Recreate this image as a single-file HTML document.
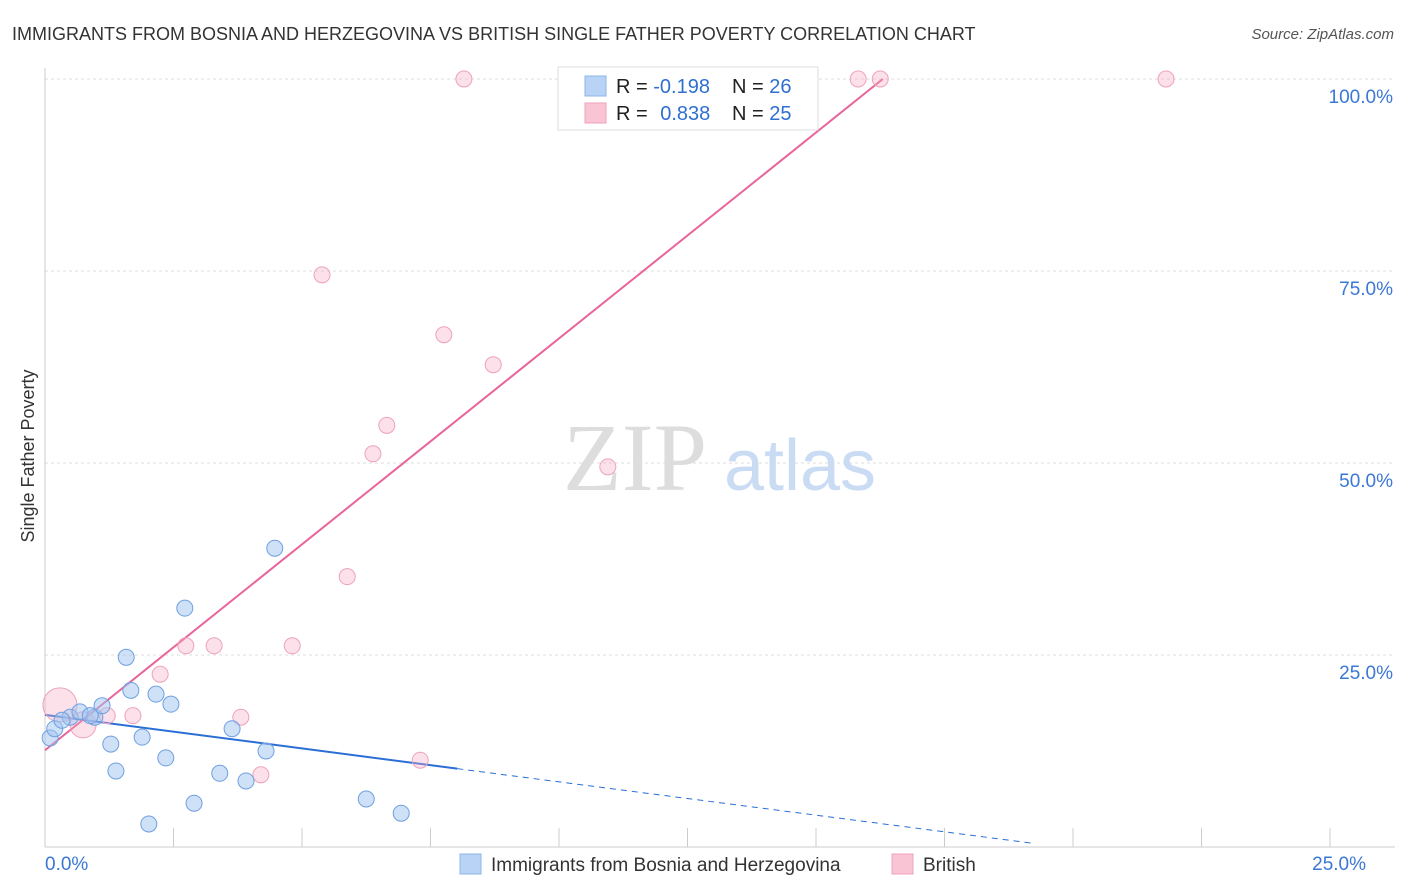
<!DOCTYPE html>
<html><head><meta charset="utf-8"><style>
body{margin:0;background:#fff;font-family:"Liberation Sans",sans-serif;}
svg{display:block}
</style></head><body>
<svg id="c" width="1406" height="892" xmlns="http://www.w3.org/2000/svg">
<text x="12" y="40" font-size="18" fill="#333">IMMIGRANTS FROM BOSNIA AND HERZEGOVINA VS BRITISH SINGLE FATHER POVERTY CORRELATION CHART</text>
<text x="1394" y="39" font-size="15" fill="#555" font-style="italic" text-anchor="end">Source: ZipAtlas.com</text>
<text x="34" y="456" font-size="18" fill="#333" text-anchor="middle" transform="rotate(-90 34 456)">Single Father Poverty</text>
<g id="grid"></g>
<g>
<text x="635" y="490" font-size="96" font-family="Liberation Serif,serif" fill="#ddd" text-anchor="middle">ZIP</text>
<text x="800" y="490" font-size="72" fill="#c9dcf3" text-anchor="middle">atlas</text></g>
<g id="lines"></g><g id="pts"></g>
<g>
<rect x="558" y="67" width="260" height="63" fill="#fff" stroke="#ddd"/>
<rect x="585" y="76" width="21" height="20" fill="#b8d3f5" stroke="#8db5e6"/>
<rect x="585" y="103" width="21" height="20" fill="#f9c4d4" stroke="#eea2ba"/>
<text x="616" y="93" font-size="20" fill="#222">R = <tspan fill="#2f6fd0">-0.198</tspan></text>
<text x="732" y="93" font-size="20" fill="#222">N = <tspan fill="#2f6fd0">26</tspan></text>
<text x="616" y="120" font-size="20" fill="#222">R = <tspan fill="#2f6fd0" dx="7">0.838</tspan></text>
<text x="732" y="120" font-size="20" fill="#222">N = <tspan fill="#2f6fd0">25</tspan></text>
</g>
<g>
<rect x="460" y="854" width="21" height="20" fill="#b8d3f5" stroke="#8db5e6"/>
<text x="491" y="871" font-size="19" fill="#333">Immigrants from Bosnia and Herzegovina</text>
<rect x="892" y="854" width="21" height="20" fill="#f9c4d4" stroke="#eea2ba"/>
<text x="923" y="871" font-size="19" fill="#333">British</text>
</g>
</svg>
<script>
const blueX=[0.10,0.19,0.49,0.68,0.97,1.11,1.28,1.38,1.58,1.67,1.89,2.02,2.16,2.35,2.45,2.72,2.90,3.40,3.64,3.91,4.30,4.47,6.25,6.93,0.33,0.88];
const blueY=[14.2,15.4,16.9,17.6,16.9,18.4,13.4,9.9,24.7,20.4,14.3,3.0,19.9,11.6,18.6,31.1,5.7,9.6,15.4,8.6,12.5,38.9,6.25,4.4,16.5,17.1];
const pinkX=[0.29,0.74,1.21,1.71,2.24,2.74,3.29,3.81,4.20,4.81,5.39,5.88,6.38,6.65,7.76,8.15,8.72,10.23,10.95,13.33,14.30,15.82,16.25,21.81,7.30];
const pinkY=[18.5,15.9,17.1,17.1,22.5,26.2,26.2,16.9,9.4,26.2,74.5,35.2,51.2,54.9,66.7,100,62.8,100,49.5,100,100,100,100,100,11.3];
const pinkR=[17,13,8,8,8,8,8,8,8,8,8,8,8,8,8,8,8,8,8,8,8,8,8,8,8];
const blueTrend=[[0,17.2],[8.02,10.2],[19.2,0.5]];
const pinkTrend=[[0,12.6],[16.3,100]];
const yTicks=[25,50,75,100];
const xTickVals=[0,2.5,5,7.5,10,12.5,15,17.5,20,22.5,25];
const sx=v=>45+v/25*1285, sy=v=>847-v/25*192;
const NS="http://www.w3.org/2000/svg";
function mk(p,t,a){const e=document.createElementNS(NS,t);for(const k in a)e.setAttribute(k,a[k]);p.appendChild(e);return e;}
const g=document.getElementById('grid');
yTicks.forEach(v=>{const l=mk(g,'line',{x1:45,x2:1395,y1:sy(v),y2:sy(v),stroke:'#ddd','stroke-dasharray':'3,3'});

const t=mk(g,'text',{x:1393,y:sy(v)+24,'font-size':19,fill:'#3a78d4','text-anchor':'end'});t.textContent=v.toFixed(1)+'%';
});
const ax=mk(g,'line',{x1:45,x2:45,y1:68,y2:847,stroke:'#ccc'});

const bx=mk(g,'line',{x1:45,x2:1395,y1:847,y2:847,stroke:'#ccc'});

xTickVals.forEach(v=>{const l=mk(g,'line',{x1:sx(v),x2:sx(v),y1:828,y2:847,stroke:'#ccc'});
});
[[0,'start'],[25,'end']].forEach(([v,a])=>{const t=mk(g,'text',{x:sx(v)+(v?36:0),y:870,'font-size':19,fill:'#3a78d4','text-anchor':a});t.textContent=v.toFixed(1)+'%';
});
const L=document.getElementById('lines'),P=document.getElementById('pts');
pinkX.forEach((x,i)=>{const c=mk(P,'circle',{cx:sx(x),cy:sy(pinkY[i]),r:pinkR[i],fill:'rgba(245,170,195,0.35)',stroke:'#eea2ba','stroke-width':1});
});
blueX.forEach((x,i)=>{const c=mk(P,'circle',{cx:sx(x),cy:sy(blueY[i]),r:8,fill:'rgba(160,195,240,0.5)',stroke:'#6fa0e0','stroke-width':1});
});
const b1=mk(L,'line',{x1:sx(blueTrend[0][0]),y1:sy(blueTrend[0][1]),x2:sx(blueTrend[1][0]),y2:sy(blueTrend[1][1]),stroke:'#2a6fd6','stroke-width':2});

const b2=mk(L,'line',{x1:sx(blueTrend[1][0]),y1:sy(blueTrend[1][1]),x2:sx(blueTrend[2][0]),y2:sy(blueTrend[2][1]),stroke:'#2a6fd6','stroke-width':1,'stroke-dasharray':'6,5'});

const p1=mk(L,'line',{x1:sx(pinkTrend[0][0]),y1:sy(pinkTrend[0][1]),x2:sx(pinkTrend[1][0]),y2:sy(pinkTrend[1][1]),stroke:'#e8649a','stroke-width':2});

</script>
</body></html>
